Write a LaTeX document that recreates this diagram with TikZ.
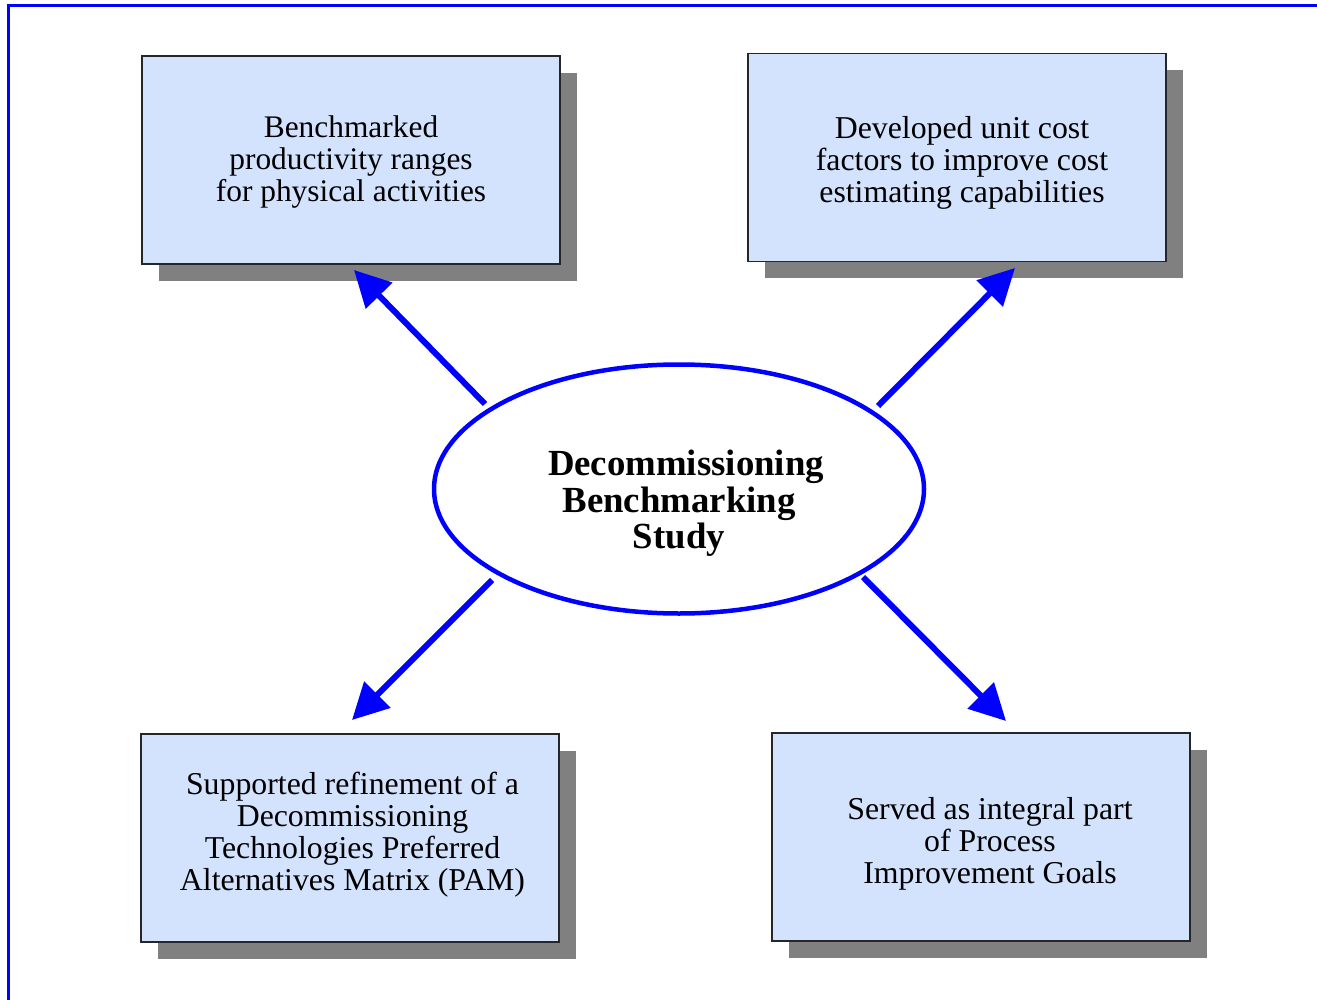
\documentclass[tikz,border=0pt]{standalone}
\usepackage{fontspec}
\setmainfont{Liberation Serif}
\usetikzlibrary{shapes.geometric,arrows.meta,shadows}
\definecolor{boxfill}{HTML}{D3E3FD}
\definecolor{shadowgray}{HTML}{808080}
\definecolor{pureblue}{HTML}{0000FF}
\begin{document}
\begin{tikzpicture}[x=1pt,y=-1pt,
  infobox/.style={rectangle, draw=black!85, line width=1.2pt, fill=boxfill,
    minimum width=418pt, minimum height=208pt, inner sep=0pt,
    drop shadow={shadow xshift=17pt, shadow yshift=-17pt, fill=shadowgray, opacity=1}},
  boxtext/.style={align=center, inner sep=0pt, font=\fontsize{31.8}{32}\selectfont},
  hub/.style={ellipse, draw=pureblue, line width=4.5pt, fill=white,
    minimum width=490pt, minimum height=249pt, inner sep=0pt},
  hubtext/.style={align=center, inner sep=0pt, font=\fontsize{36.8}{36.5}\selectfont\bfseries},
  link/.style={draw=pureblue, line width=6pt, -{Triangle[length=36pt,width=36pt]}}
]
\useasboundingbox (0,0) rectangle (1317,1000);
\draw[pureblue, line width=3pt] (8,1000) -- (8,6) -- (1317,6);

\node[infobox, label={[boxtext, font=\fontsize{31.4}{31.6}\selectfont, yshift=-2pt]center:Benchmarked\\productivity ranges\\for physical activities}] (tl) at (351,160) {};
\node[infobox, label={[boxtext, xshift=5pt, yshift=-5.5pt]center:Developed unit cost\\factors to improve cost\\estimating capabilities}] (tr) at (957,157.5) {};
\node[infobox, label={[boxtext, xshift=2.5pt, yshift=3pt]center:Supported refinement of a\\Decommissioning\\Technologies Preferred\\Alternatives Matrix (PAM)}] (bl) at (350,838) {};
\node[infobox, label={[boxtext, xshift=9pt, yshift=-7pt]center:Served as integral part\\of Process\\Improvement Goals}] (br) at (981,837) {};

\node[hub, label={[hubtext, yshift=-14.5pt]center:\hspace*{14pt}Decommissioning\\Benchmarking\\Study}] (c) at (679,489) {};

\coordinate (tls) at (485,404);
\coordinate (tlt) at (354,270);
\coordinate (trs) at (878,406);
\coordinate (trt) at (1015,268);
\coordinate (bls) at (492,580);
\coordinate (blt) at (352,720);
\coordinate (brs) at (863,577);
\coordinate (brt) at (1006,721);

\draw[link] (tls) -- (tlt);
\draw[link] (trs) -- (trt);
\draw[link] (bls) -- (blt);
\draw[link] (brs) -- (brt);
\end{tikzpicture}
\end{document}
